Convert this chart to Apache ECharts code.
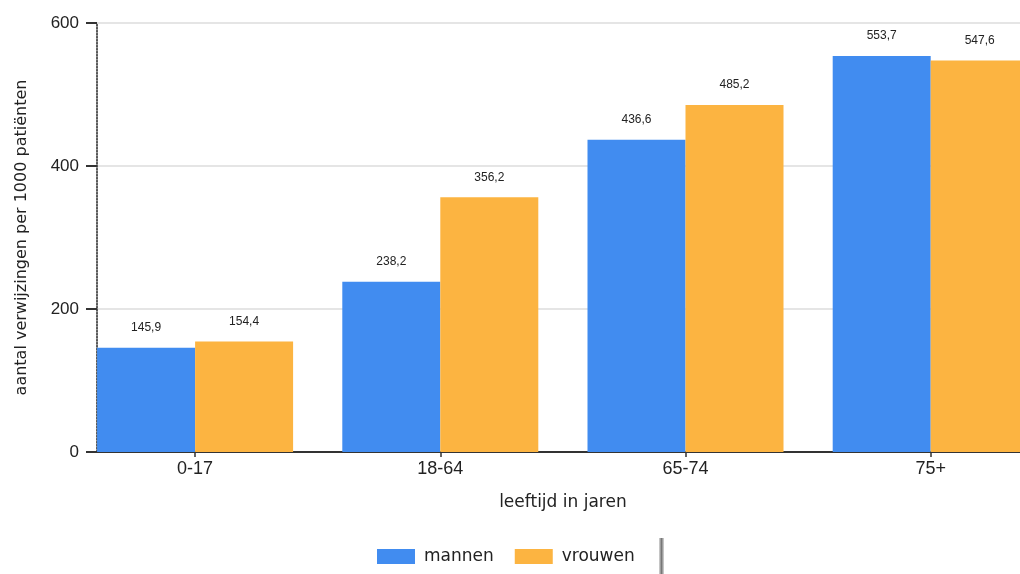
<!DOCTYPE html>
<html>
<head>
<meta charset="utf-8">
<script src="https://cdn.jsdelivr.net/npm/echarts@6/dist/echarts.min.js"></script>
<style>
html,body{margin:0;padding:0;background:#fff;}
#chart{width:1020px;height:574px;}
</style>
</head>
<body>
<div id="chart"></div>
<script>
const categories = ['0-17', '18-64', '65-74', '75+'];
const mannen = [145.9, 238.2, 436.6, 553.7];
const vrouwen = [154.4, 356.2, 485.2, 547.6];
const yTicks = [0, 200, 400, 600];

const NUM_FONT = 'Liberation Sans';
const TXT_FONT = 'DejaVu Sans';
const fmt = p => String(p.value).replace('.', ',');
const yMin = yTicks[0], yMax = yTicks[yTicks.length - 1];

const chart = echarts.init(document.getElementById('chart'), null, {renderer: 'canvas'});
chart.setOption({
  animation: false,
  backgroundColor: '#ffffff',
  grid: [
    {left: 97, right: 0, top: 23, bottom: 122, containLabel: false, outerBoundsMode: 'none'},
    {left: 72.5, right: -33.3, top: 23, bottom: 122, containLabel: false, outerBoundsMode: 'none'}
  ],
  legend: {
    data: ['mannen', 'vrouwen'],
    left: 377,
    top: 548,
    padding: 0,
    icon: 'rect',
    itemWidth: 38,
    itemHeight: 15,
    itemGap: 21,
    textStyle: {fontFamily: TXT_FONT, fontSize: 17, color: '#222', padding: [3, 0, 0, 4]}
  },
  xAxis: [
    {
      gridIndex: 0, type: 'value', min: 0, max: 1,
      axisLine: {show: true, onZero: false, lineStyle: {color: '#333', width: 2}},
      axisTick: {show: false}, axisLabel: {show: false}, splitLine: {show: false}
    },
    {
      gridIndex: 1, type: 'category', data: categories,
      name: 'leeftijd in jaren',
      nameLocation: 'middle',
      nameGap: 42,
      nameTextStyle: {fontFamily: TXT_FONT, fontSize: 17, color: '#222'},
      axisLine: {show: false},
      axisTick: {show: true, alignWithLabel: true, length: 5, lineStyle: {color: '#333', width: 1.5}},
      axisLabel: {fontFamily: NUM_FONT, fontSize: 18, color: '#222', margin: 8},
      splitLine: {show: false}
    }
  ],
  yAxis: [
    {
      gridIndex: 0, type: 'value', min: yMin, max: yMax, interval: 200,
      name: 'aantal verwijzingen per 1000 patiënten',
      nameLocation: 'middle',
      nameGap: 67,
      nameTextStyle: {fontFamily: TXT_FONT, fontSize: 16, color: '#222'},
      axisLine: {show: true, onZero: false, lineStyle: {color: '#222', width: 1.5, type: 'dotted'}},
      axisTick: {show: true, length: 11, lineStyle: {color: '#333', width: 2}},
      axisLabel: {fontFamily: NUM_FONT, fontSize: 17, color: '#222', margin: 18},
      splitLine: {show: true, lineStyle: {color: '#dcdcdc', width: 1.5}}
    },
    {
      gridIndex: 1, type: 'value', min: yMin, max: yMax, interval: 200,
      axisLine: {show: false}, axisTick: {show: false}, axisLabel: {show: false}, splitLine: {show: false}
    }
  ],
  series: [
    {
      name: 'mannen', type: 'bar', data: mannen, xAxisIndex: 1, yAxisIndex: 1,
      barWidth: 98, barGap: '0%',
      itemStyle: {color: '#418CF0'},
      label: {show: true, position: 'top', distance: 14, formatter: fmt,
              fontFamily: NUM_FONT, fontSize: 12, color: '#222'}
    },
    {
      name: 'vrouwen', type: 'bar', data: vrouwen, xAxisIndex: 1, yAxisIndex: 1,
      barWidth: 98, barGap: '0%',
      itemStyle: {color: '#FCB441'},
      label: {show: true, position: 'top', distance: 14, formatter: fmt,
              fontFamily: NUM_FONT, fontSize: 12, color: '#222'}
    }
  ],
  graphic: [{
    type: 'rect',
    left: 659, top: 538,
    shape: {width: 5, height: 36},
    style: {fill: new echarts.graphic.LinearGradient(0, 0, 1, 0, [
      {offset: 0, color: '#d8d8d8'}, {offset: 0.5, color: '#777'}, {offset: 1, color: '#d8d8d8'}
    ])}
  }]
});
</script>
</body>
</html>
